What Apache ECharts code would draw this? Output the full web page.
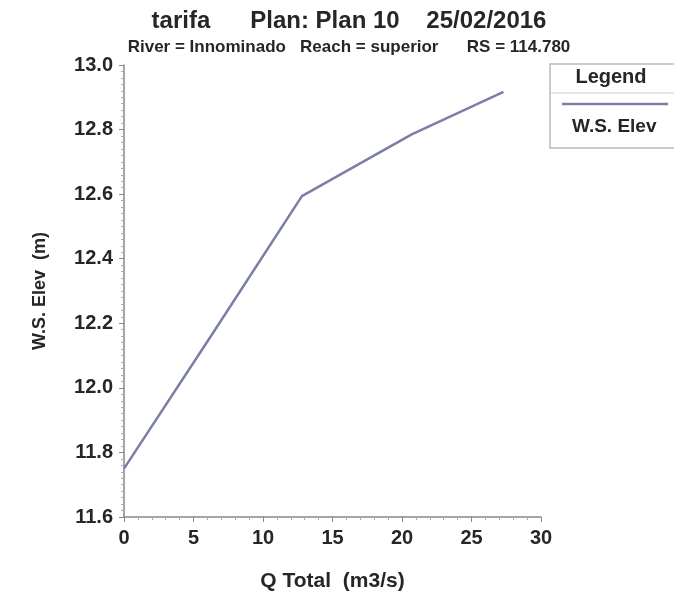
<!DOCTYPE html>
<html>
<head>
<meta charset="utf-8">
<script src="https://cdn.jsdelivr.net/npm/echarts@6/dist/echarts.min.js"></script>
<style>
html, body { margin: 0; padding: 0; background: #fff; }
#main { width: 674px; height: 602px; }
</style>
</head>
<body>
<div id="main"></div>
<script>
// discharge (m3/s) and water surface elevation (m)
var qTotal = [0, 6.4, 12.8, 20.7, 27.3];
var wsElev = [11.75, 12.17, 12.594, 12.785, 12.917];
var seriesName = 'W.S. Elev';

var titleText = 'tarifa      Plan: Plan 10    25/02/2016';
var subText = 'River = Innominado   Reach = superior      RS = 114.780';

var pts = [];
for (var i = 0; i < qTotal.length; i++) {
    pts.push([qTotal[i], wsElev[i]]);
}

var myChart = echarts.init(document.getElementById('main'));

var font = 'Liberation Sans';
var ink = '#262626';
var lineColor = '#7b7fa8';

option = {
    backgroundColor: '#fff',
    animation: false,
    title: {
        text: titleText,
        subtext: subText,
        left: 344,
        textAlign: 'center',
        top: 4,
        itemGap: 6,
        textStyle: { fontFamily: font, fontSize: 24, fontWeight: 'bold', color: ink },
        subtextStyle: { fontFamily: font, fontSize: 17, fontWeight: 'bold', color: ink }
    },
    legend: {
        data: [seriesName],
        left: 566,
        top: 112,
        icon: 'none',
        itemWidth: 0,
        itemGap: 0,
        textStyle: { fontFamily: font, fontSize: 19, fontWeight: 'bold', color: ink, padding: [0, 0, 0, -4] }
    },
    grid: {
        left: 124,
        right: 133,
        top: 65,
        bottom: 85
    },
    xAxis: {
        type: 'value',
        min: 0,
        max: 30,
        interval: 5,
        name: 'Q Total  (m3/s)',
        nameLocation: 'middle',
        nameGap: 54,
        nameTextStyle: { fontFamily: font, fontSize: 21, fontWeight: 'bold', color: ink },
        axisLine: { lineStyle: { color: '#888', width: 1.5 } },
        axisTick: { show: true, length: 5, lineStyle: { color: '#888' } },
        minorTick: { show: true, splitNumber: 5, length: 3, lineStyle: { color: '#aaa' } },
        splitLine: { show: false },
        axisLabel: { fontFamily: font, fontSize: 20, fontWeight: 'bold', color: ink, margin: 11 }
    },
    yAxis: {
        type: 'value',
        min: 11.6,
        max: 13.0,
        interval: 0.2,
        name: 'W.S. Elev  (m)',
        nameLocation: 'middle',
        nameGap: 75,
        nameTextStyle: { fontFamily: font, fontSize: 18, fontWeight: 'bold', color: ink },
        axisLine: { show: true, lineStyle: { color: '#888', width: 1.5 } },
        axisTick: { show: true, length: 5, lineStyle: { color: '#888' } },
        minorTick: { show: true, splitNumber: 10, length: 3, lineStyle: { color: '#aaa' } },
        splitLine: { show: false },
        axisLabel: {
            fontFamily: font, fontSize: 20, fontWeight: 'bold', color: ink, margin: 11,
            formatter: function (v) { return v.toFixed(1); }
        }
    },
    graphic: [
        { type: 'rect', shape: { x: 550, y: 64, width: 130, height: 84 },
          style: { fill: '#fff', stroke: '#bbb', lineWidth: 1.5 }, z: -1 },
        { type: 'text', x: 611, y: 77, style: { text: 'Legend', fontFamily: font, fontSize: 20,
          fontWeight: 'bold', fill: ink, align: 'center', verticalAlign: 'middle' } },
        { type: 'line', shape: { x1: 550, y1: 93, x2: 674, y2: 93 }, style: { stroke: '#ccc', lineWidth: 1 } },
        { type: 'line', shape: { x1: 562, y1: 104, x2: 668, y2: 104 }, style: { stroke: lineColor, lineWidth: 2.5 } }
    ],
    series: [{
        name: seriesName,
        type: 'line',
        data: pts,
        showSymbol: false,
        lineStyle: { color: lineColor, width: 2.5 },
        itemStyle: { color: lineColor }
    }]
};

myChart.setOption(option);
</script>
</body>
</html>
